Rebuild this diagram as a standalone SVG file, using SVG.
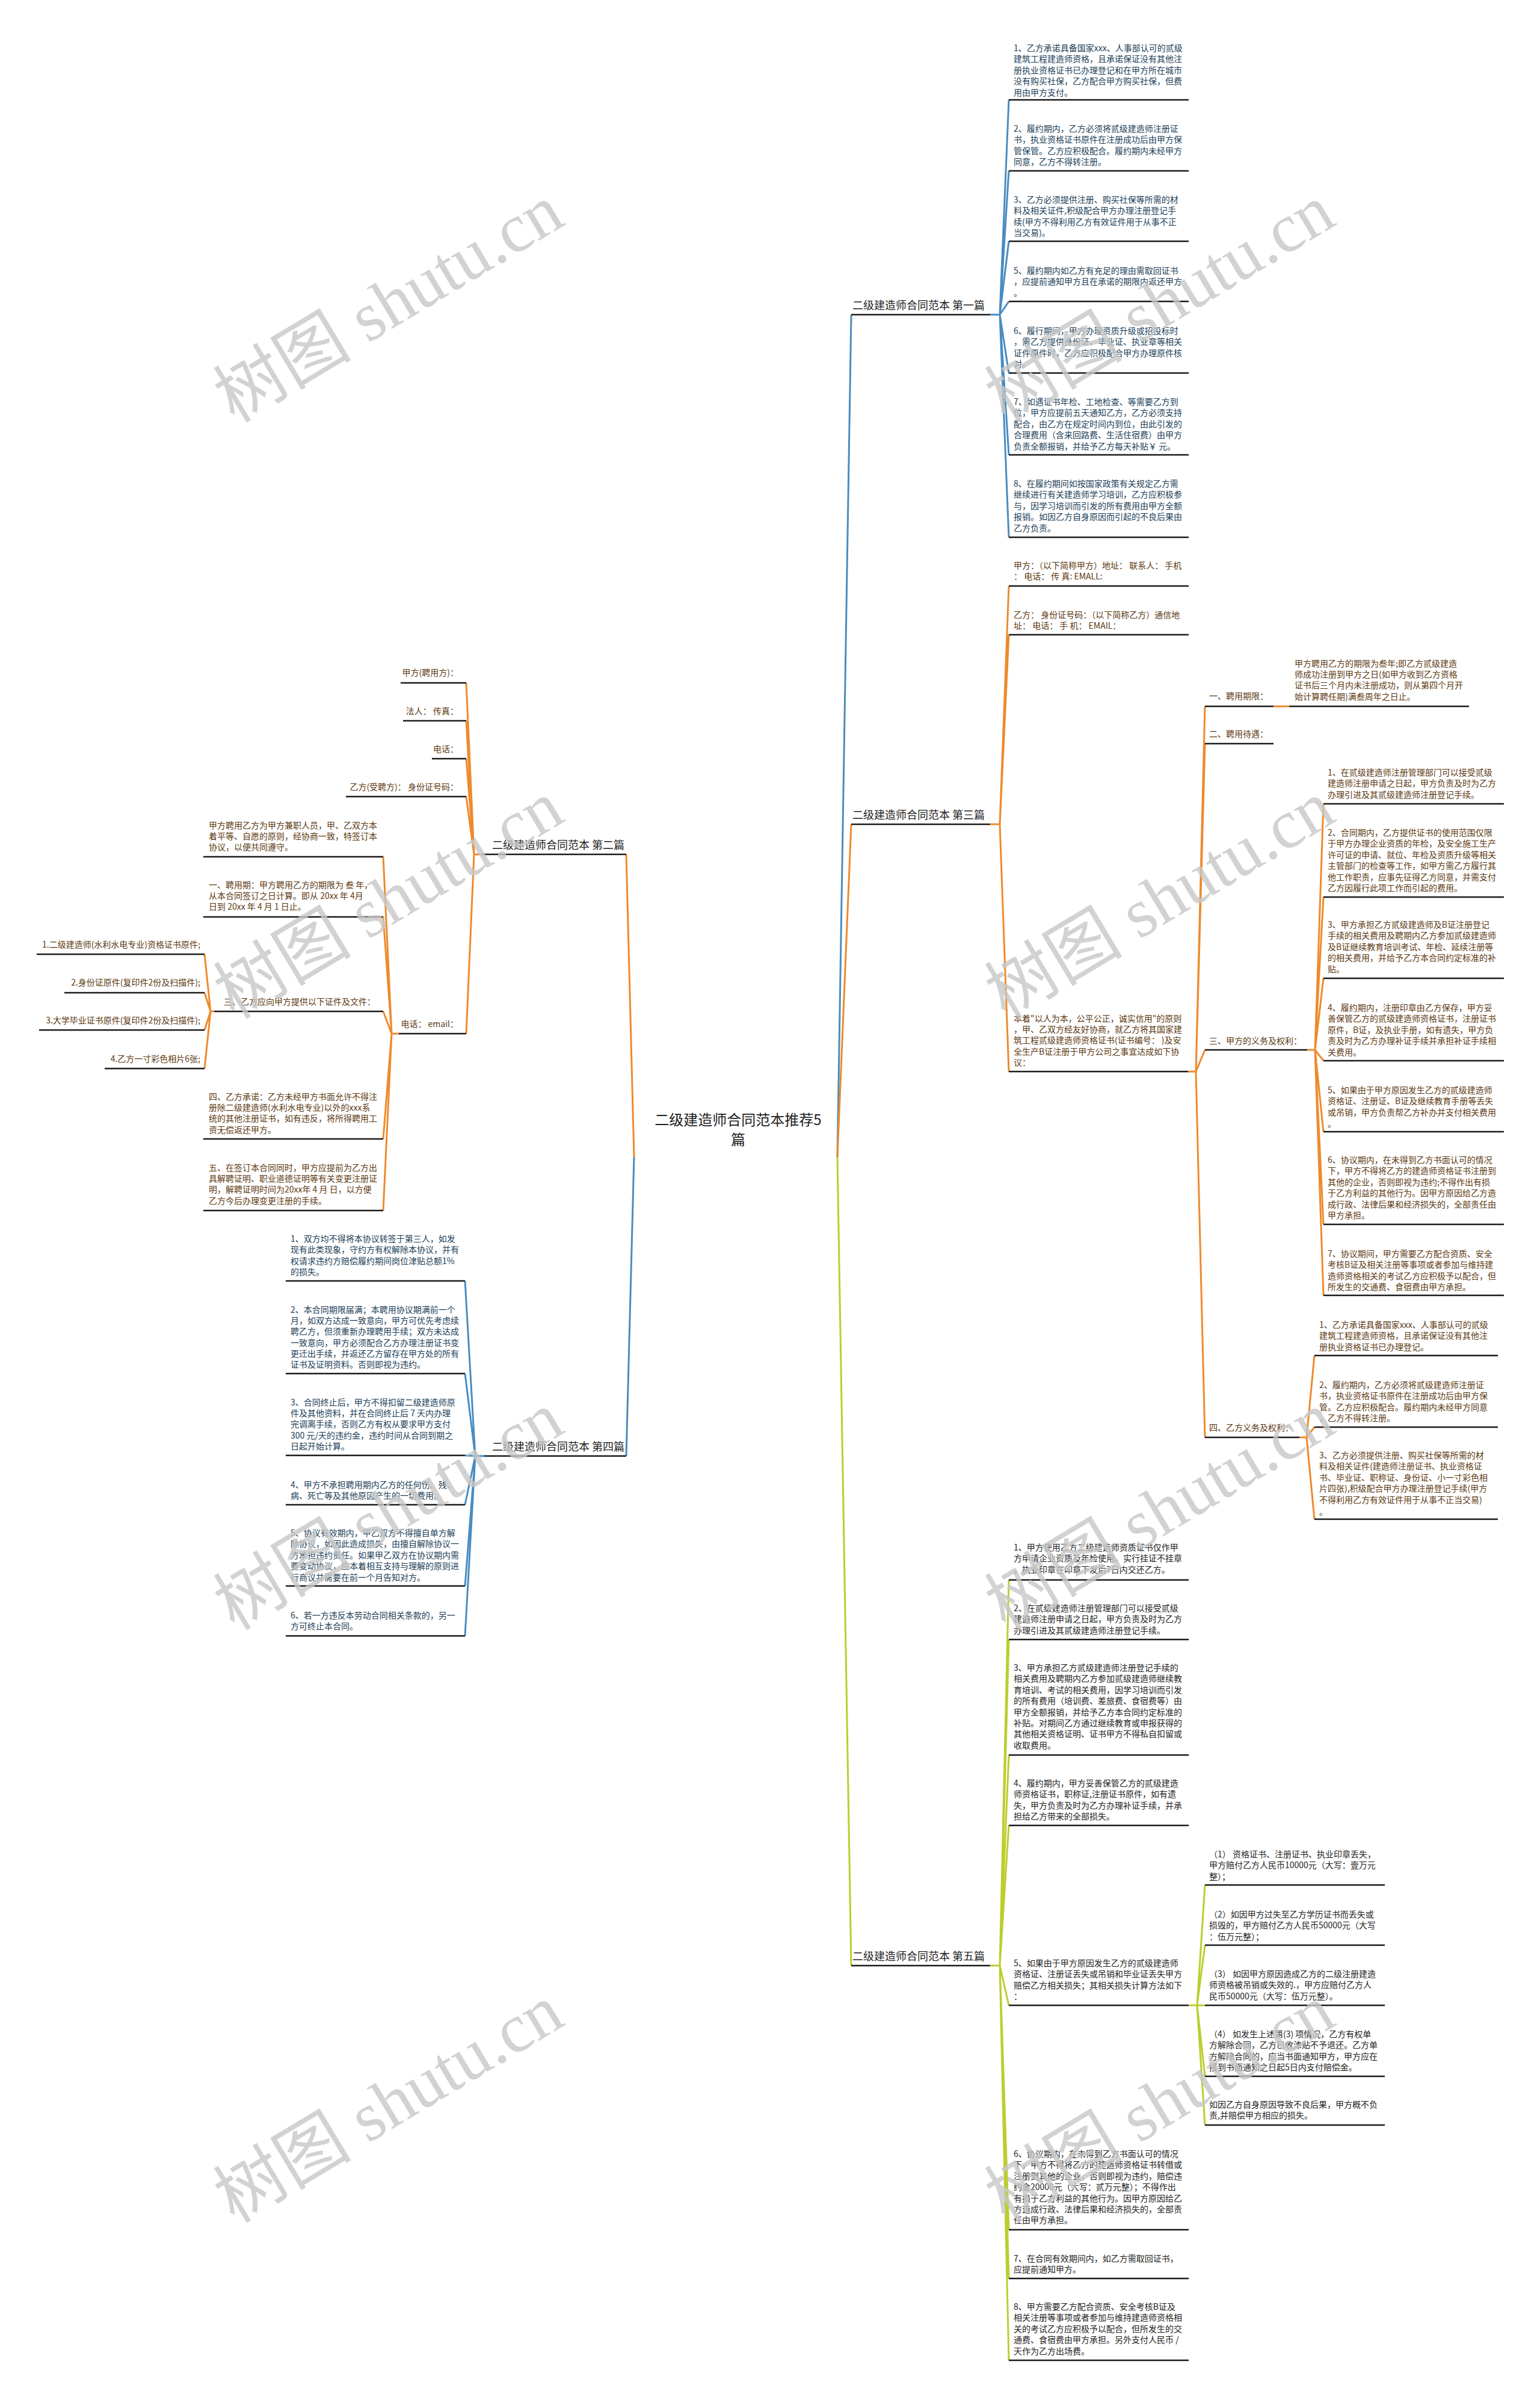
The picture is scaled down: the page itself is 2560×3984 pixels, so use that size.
<svg xmlns="http://www.w3.org/2000/svg" width="2560" height="3984" viewBox="0 0 2560 3984">
<style>
text{font-family:"Noto Sans CJK SC","Noto Sans",sans-serif;font-size:14px}
.root{font-size:24px;fill:#222}
.l1{font-size:18px;fill:#222}
.tb{fill:#203e58}
.to{fill:#5c3811}
.tg{fill:#1e1e1e}
.ul{stroke:#1a1a1a;stroke-width:2.5;fill:none}
.cb{stroke:#4a8cc0;stroke-width:3;fill:none}
.co{stroke:#ee8a2c;stroke-width:3;fill:none}
.cg{stroke:#bccd2e;stroke-width:3;fill:none}
.wm{font-family:"Liberation Serif","Noto Sans CJK SC",serif;font-size:115px;fill:#c8c8c8;opacity:.8}
</style>
<rect width="2560" height="3984" fill="#fff"/>
<g id="connectors">
<path class="cb" d="M1392,1923 L1415,523"/>
<path class="co" d="M1392,1923 L1415,1370"/>
<path class="cg" d="M1392,1923 L1415,3267"/>
<path class="co" d="M1054,1923 L1041,1420"/>
<path class="cb" d="M1054,1923 L1041,2420"/>
<path class="cb" d="M1646,523 L1662,523 L1677,166 M1662,523 L1677,284 M1662,523 L1677,401 M1662,523 L1677,501 M1662,523 L1677,620 M1662,523 L1677,756 M1662,523 L1677,893"/>
<path class="co" d="M1646,1370 L1662,1370 L1677,974 M1662,1370 L1677,1055 M1662,1370 L1677,1781"/>
<path class="co" d="M1975,1781 L1988,1781 L2003,1174 M1988,1781 L2003,1236 M1988,1781 L2003,1745 M1988,1781 L2003,2389"/>
<path class="co" d="M2117,1174 L2143,1174"/>
<path class="co" d="M2173,1745 L2186,1745 L2200,1336 M2186,1745 L2200,1491 M2186,1745 L2200,1626 M2186,1745 L2200,1763 M2186,1745 L2200,1881 M2186,1745 L2200,2035 M2186,1745 L2200,2153"/>
<path class="co" d="M2160,2389 L2172,2389 L2185,2253 M2172,2389 L2185,2372 M2172,2389 L2185,2525"/>
<path class="cg" d="M1646,3267 L1662,3267 L1677,2626 M1662,3267 L1677,2725 M1662,3267 L1677,2917 M1662,3267 L1677,3034 M1662,3267 L1677,3333 M1662,3267 L1677,3706 M1662,3267 L1677,3787 M1662,3267 L1677,3923"/>
<path class="cg" d="M1976,3333 L1990,3333 L2003,3133 M1990,3333 L2003,3233 M1990,3333 L2003,3333 M1990,3333 L2003,3451 M1990,3333 L2003,3532"/>
<path class="co" d="M801,1420 L788,1420 L775,1135 M788,1420 L775,1198 M788,1420 L775,1261 M788,1420 L775,1324 M788,1420 L775,1718"/>
<path class="co" d="M663,1718 L651,1718 L637,1424 M651,1718 L637,1524 M651,1718 L637,1681 M651,1718 L637,1893 M651,1718 L637,2012"/>
<path class="co" d="M356,1681 L350,1681 L340,1586 M350,1681 L340,1650 M350,1681 L340,1712 M350,1681 L340,1776"/>
<path class="cb" d="M805,2420 L790,2420 L773,2129 M790,2420 L773,2283 M790,2420 L773,2419 M790,2420 L773,2501 M790,2420 L773,2636 M790,2420 L773,2719"/>
</g>

<g id="root"><text class="root" text-anchor="middle" x="1227" y="1870">二级建造师合同范本推荐5<tspan x="1227" dy="33">篇</tspan></text></g>

<g id="ch1"><text class="l1" x="1417" y="514">二级建造师合同范本 第一篇</text><line class="ul" x1="1415" y1="523" x2="1646" y2="523"/></g>
<g id="ch1-1"><text class="tb" x="1685" y="85"><tspan x="1685" dy="0">1、乙方承诺具备国家xxx、人事部认可的贰级</tspan><tspan x="1685" dy="18.4">建筑工程建造师资格，且承诺保证没有其他注</tspan><tspan x="1685" dy="18.4">册执业资格证书已办理登记和在甲方所在城市</tspan><tspan x="1685" dy="18.4">没有购买社保，乙方配合甲方购买社保，但费</tspan><tspan x="1685" dy="18.4">用由甲方支付。</tspan></text><line class="ul" x1="1677" y1="166" x2="1976" y2="166"/></g>
<g id="ch1-2"><text class="tb" x="1685" y="219"><tspan x="1685" dy="0">2、履约期内，乙方必须将贰级建造师注册证</tspan><tspan x="1685" dy="18.4">书，执业资格证书原件在注册成功后由甲方保</tspan><tspan x="1685" dy="18.4">管保管。乙方应积极配合。履约期内未经甲方</tspan><tspan x="1685" dy="18.4">同意，乙方不得转注册。</tspan></text><line class="ul" x1="1677" y1="284" x2="1976" y2="284"/></g>
<g id="ch1-3"><text class="tb" x="1685" y="337"><tspan x="1685" dy="0">3、乙方必须提供注册、购买社保等所需的材</tspan><tspan x="1685" dy="18.4">料及相关证件,积级配合甲方办理注册登记手</tspan><tspan x="1685" dy="18.4">续(甲方不得利用乙方有效证件用于从事不正</tspan><tspan x="1685" dy="18.4">当交易)。</tspan></text><line class="ul" x1="1677" y1="401" x2="1976" y2="401"/></g>
<g id="ch1-5"><text class="tb" x="1685" y="455"><tspan x="1685" dy="0">5、履约期内如乙方有充足的理由需取回证书</tspan><tspan x="1685" dy="18.4">，应提前通知甲方且在承诺的期限内返还甲方</tspan><tspan x="1685" dy="18.4">。</tspan></text><line class="ul" x1="1677" y1="501" x2="1976" y2="501"/></g>
<g id="ch1-6"><text class="tb" x="1685" y="555"><tspan x="1685" dy="0">6、履行期间，甲方办理资质升级或招投标时</tspan><tspan x="1685" dy="18.4">，需乙方提供身份证、毕业证、执业章等相关</tspan><tspan x="1685" dy="18.4">证件原件时，乙方应积极配合甲方办理原件核</tspan><tspan x="1685" dy="18.4">对。</tspan></text><line class="ul" x1="1677" y1="620" x2="1976" y2="620"/></g>
<g id="ch1-7"><text class="tb" x="1685" y="673"><tspan x="1685" dy="0">7、如遇证书年检、工地检查、等需要乙方到</tspan><tspan x="1685" dy="18.4">位，甲方应提前五天通知乙方，乙方必须支持</tspan><tspan x="1685" dy="18.4">配合，由乙方在规定时间内到位，由此引发的</tspan><tspan x="1685" dy="18.4">合理费用（含来回路费、生活住宿费）由甲方</tspan><tspan x="1685" dy="18.4">负责全额报销，并给予乙方每天补贴￥  元。</tspan></text><line class="ul" x1="1677" y1="756" x2="1976" y2="756"/></g>
<g id="ch1-8"><text class="tb" x="1685" y="809"><tspan x="1685" dy="0">8、在履约期间如按国家政策有关规定乙方需</tspan><tspan x="1685" dy="18.4">继续进行有关建造师学习培训，乙方应积极参</tspan><tspan x="1685" dy="18.4">与，因学习培训而引发的所有费用由甲方全额</tspan><tspan x="1685" dy="18.4">报销。如因乙方自身原因而引起的不良后果由</tspan><tspan x="1685" dy="18.4">乙方负责。</tspan></text><line class="ul" x1="1677" y1="893" x2="1976" y2="893"/></g>

<g id="ch3"><text class="l1" x="1417" y="1361">二级建造师合同范本 第三篇</text><line class="ul" x1="1415" y1="1370" x2="1646" y2="1370"/></g>
<g id="ch3-a"><text class="to" x="1685" y="945"><tspan x="1685" dy="0">甲方：（以下简称甲方）地址：  联系人：  手机</tspan><tspan x="1685" dy="18.4">：  电话：  传 真: EMALL:</tspan></text><line class="ul" x1="1677" y1="974" x2="1976" y2="974"/></g>
<g id="ch3-b"><text class="to" x="1685" y="1027"><tspan x="1685" dy="0">乙方：  身份证号码：（以下简称乙方）通信地</tspan><tspan x="1685" dy="18.4">址：  电话：  手 机：  EMAIL：</tspan></text><line class="ul" x1="1677" y1="1055" x2="1976" y2="1055"/></g>
<g id="ch3-c"><text class="to" x="1685" y="1698"><tspan x="1685" dy="0">本着&quot;以人为本，公平公正，诚实信用&quot;的原则</tspan><tspan x="1685" dy="18.2">，甲、乙双方经友好协商，就乙方将其国家建</tspan><tspan x="1685" dy="18.2">筑工程贰级建造师资格证书(证书编号：  )及安</tspan><tspan x="1685" dy="18.2">全生产B证注册于甲方公司之事宜达成如下协</tspan><tspan x="1685" dy="18.2">议：</tspan></text><line class="ul" x1="1677" y1="1781" x2="1975" y2="1781"/></g>
<g id="ch3-c1"><text class="to" x="2010" y="1162">一、聘用期限：</text><line class="ul" x1="2003" y1="1174" x2="2117" y2="1174"/></g>
<g id="ch3-c1a"><text class="to" x="2152" y="1108"><tspan x="2152" dy="0">甲方聘用乙方的期限为叁年;即乙方贰级建造</tspan><tspan x="2152" dy="18.2">师成功注册到甲方之日(如甲方收到乙方资格</tspan><tspan x="2152" dy="18.2">证书后三个月内未注册成功，则从第四个月开</tspan><tspan x="2152" dy="18.2">始计算聘任期)满叁周年之日止。</tspan></text><line class="ul" x1="2143" y1="1174" x2="2442" y2="1174"/></g>
<g id="ch3-c2"><text class="to" x="2010" y="1225">二、聘用待遇：</text><line class="ul" x1="2003" y1="1236" x2="2117" y2="1236"/></g>
<g id="ch3-c3"><text class="to" x="2010" y="1735">三、甲方的义务及权利：</text><line class="ul" x1="2003" y1="1745" x2="2173" y2="1745"/></g>
<g id="ch3-c3-1"><text class="to" x="2207" y="1289"><tspan x="2207" dy="0">1、在贰级建造师注册管理部门可以接受贰级</tspan><tspan x="2207" dy="18.4">建造师注册申请之日起，甲方负责及时为乙方</tspan><tspan x="2207" dy="18.4">办理引进及其贰级建造师注册登记手续。</tspan></text><line class="ul" x1="2200" y1="1336" x2="2500" y2="1336"/></g>
<g id="ch3-c3-2"><text class="to" x="2207" y="1389"><tspan x="2207" dy="0">2、合同期内，乙方提供证书的使用范围仅限</tspan><tspan x="2207" dy="18.4">于甲方办理企业资质的年检，及安全施工生产</tspan><tspan x="2207" dy="18.4">许可证的申请、就位、年检及资质升级等相关</tspan><tspan x="2207" dy="18.4">主管部门的检查等工作，如甲方需乙方履行其</tspan><tspan x="2207" dy="18.4">他工作职责，应事先征得乙方同意，并需支付</tspan><tspan x="2207" dy="18.4">乙方因履行此项工作而引起的费用。</tspan></text><line class="ul" x1="2200" y1="1491" x2="2500" y2="1491"/></g>
<g id="ch3-c3-3"><text class="to" x="2207" y="1542"><tspan x="2207" dy="0">3、甲方承担乙方贰级建造师及B证注册登记</tspan><tspan x="2207" dy="18.4">手续的相关费用及聘期内乙方参加贰级建造师</tspan><tspan x="2207" dy="18.4">及B证继续教育培训考试、年检、延续注册等</tspan><tspan x="2207" dy="18.4">的相关费用，并给予乙方本合同约定标准的补</tspan><tspan x="2207" dy="18.4">贴。</tspan></text><line class="ul" x1="2200" y1="1626" x2="2500" y2="1626"/></g>
<g id="ch3-c3-4"><text class="to" x="2207" y="1680"><tspan x="2207" dy="0">4、履约期内，注册印章由乙方保存，甲方妥</tspan><tspan x="2207" dy="18.4">善保管乙方的贰级建造师资格证书，注册证书</tspan><tspan x="2207" dy="18.4">原件，B证，及执业手册，如有遗失，甲方负</tspan><tspan x="2207" dy="18.4">责及时为乙方办理补证手续并承担补证手续相</tspan><tspan x="2207" dy="18.4">关费用。</tspan></text><line class="ul" x1="2200" y1="1763" x2="2500" y2="1763"/></g>
<g id="ch3-c3-5"><text class="to" x="2207" y="1817"><tspan x="2207" dy="0">5、如果由于甲方原因发生乙方的贰级建造师</tspan><tspan x="2207" dy="18.4">资格证、注册证、B证及继续教育手册等丢失</tspan><tspan x="2207" dy="18.4">或吊销，甲方负责帮乙方补办并支付相关费用</tspan><tspan x="2207" dy="19.5">。</tspan></text><line class="ul" x1="2200" y1="1881" x2="2500" y2="1881"/></g>
<g id="ch3-c3-6"><text class="to" x="2207" y="1933"><tspan x="2207" dy="0">6、协议期内，在未得到乙方书面认可的情况</tspan><tspan x="2207" dy="18.4">下，甲方不得将乙方的建造师资格证书注册到</tspan><tspan x="2207" dy="18.4">其他的企业，否则即视为违约;不得作出有损</tspan><tspan x="2207" dy="18.4">于乙方利益的其他行为。因甲方原因给乙方造</tspan><tspan x="2207" dy="18.4">成行政、法律后果和经济损失的，全部责任由</tspan><tspan x="2207" dy="18.4">甲方承担。</tspan></text><line class="ul" x1="2200" y1="2035" x2="2500" y2="2035"/></g>
<g id="ch3-c3-7"><text class="to" x="2207" y="2089"><tspan x="2207" dy="0">7、协议期间，甲方需要乙方配合资质、安全</tspan><tspan x="2207" dy="18.4">考核B证及相关注册等事项或者参加与维持建</tspan><tspan x="2207" dy="18.4">造师资格相关的考试乙方应积极予以配合，但</tspan><tspan x="2207" dy="18.4">所发生的交通费、食宿费由甲方承担。</tspan></text><line class="ul" x1="2200" y1="2153" x2="2500" y2="2153"/></g>
<g id="ch3-c4"><text class="to" x="2010" y="2378">四、乙方义务及权利：</text><line class="ul" x1="2003" y1="2389" x2="2160" y2="2389"/></g>
<g id="ch3-c4-1"><text class="to" x="2193" y="2207"><tspan x="2193" dy="0">1、乙方承诺具备国家xxx、人事部认可的贰级</tspan><tspan x="2193" dy="18.4">建筑工程建造师资格，且承诺保证没有其他注</tspan><tspan x="2193" dy="18.4">册执业资格证书已办理登记。</tspan></text><line class="ul" x1="2185" y1="2253" x2="2490" y2="2253"/></g>
<g id="ch3-c4-2"><text class="to" x="2193" y="2307"><tspan x="2193" dy="0">2、履约期内，乙方必须将贰级建造师注册证</tspan><tspan x="2193" dy="18.4">书，执业资格证书原件在注册成功后由甲方保</tspan><tspan x="2193" dy="18.4">管。乙方应积极配合。履约期内未经甲方同意</tspan><tspan x="2193" dy="18.4">，乙方不得转注册。</tspan></text><line class="ul" x1="2185" y1="2372" x2="2490" y2="2372"/></g>
<g id="ch3-c4-3"><text class="to" x="2193" y="2424"><tspan x="2193" dy="0">3、乙方必须提供注册、购买社保等所需的材</tspan><tspan x="2193" dy="18.4">料及相关证件(建造师注册证书、执业资格证</tspan><tspan x="2193" dy="18.4">书、毕业证、职称证、身份证、小一寸彩色相</tspan><tspan x="2193" dy="18.4">片四张),积级配合甲方办理注册登记手续(甲方</tspan><tspan x="2193" dy="18.4">不得利用乙方有效证件用于从事不正当交易)</tspan><tspan x="2193" dy="20">。</tspan></text><line class="ul" x1="2185" y1="2525" x2="2490" y2="2525"/></g>

<g id="ch5"><text class="l1" x="1417" y="3258">二级建造师合同范本 第五篇</text><line class="ul" x1="1415" y1="3267" x2="1646" y2="3267"/></g>
<g id="ch5-1"><text class="tg" x="1685" y="2577"><tspan x="1685" dy="0">1、甲方使用乙方二级建造师资质证书仅作甲</tspan><tspan x="1685" dy="18.4">方申请企业资质及年检使用。实行挂证不挂章</tspan><tspan x="1685" dy="18.4">，执业印章在印章下发后7日内交还乙方。</tspan></text><line class="ul" x1="1677" y1="2626" x2="1976" y2="2626"/></g>
<g id="ch5-2"><text class="tg" x="1685" y="2678"><tspan x="1685" dy="0">2、在贰级建造师注册管理部门可以接受贰级</tspan><tspan x="1685" dy="18.4">建造师注册申请之日起，甲方负责及时为乙方</tspan><tspan x="1685" dy="18.4">办理引进及其贰级建造师注册登记手续。</tspan></text><line class="ul" x1="1677" y1="2725" x2="1976" y2="2725"/></g>
<g id="ch5-3"><text class="tg" x="1685" y="2777"><tspan x="1685" dy="0">3、甲方承担乙方贰级建造师注册登记手续的</tspan><tspan x="1685" dy="18.4">相关费用及聘期内乙方参加贰级建造师继续教</tspan><tspan x="1685" dy="18.4">育培训、考试的相关费用，因学习培训而引发</tspan><tspan x="1685" dy="18.4">的所有费用（培训费、差旅费、食宿费等）由</tspan><tspan x="1685" dy="18.4">甲方全额报销，并给予乙方本合同约定标准的</tspan><tspan x="1685" dy="18.4">补贴。对期间乙方通过继续教育或申报获得的</tspan><tspan x="1685" dy="18.4">其他相关资格证明、证书甲方不得私自扣留或</tspan><tspan x="1685" dy="18.4">收取费用。</tspan></text><line class="ul" x1="1677" y1="2917" x2="1976" y2="2917"/></g>
<g id="ch5-4"><text class="tg" x="1685" y="2969"><tspan x="1685" dy="0">4、履约期内，甲方妥善保管乙方的贰级建造</tspan><tspan x="1685" dy="18.4">师资格证书，职称证,注册证书原件，如有遗</tspan><tspan x="1685" dy="18.4">失，甲方负责及时为乙方办理补证手续，并承</tspan><tspan x="1685" dy="18.4">担给乙方带来的全部损失。</tspan></text><line class="ul" x1="1677" y1="3034" x2="1976" y2="3034"/></g>
<g id="ch5-5"><text class="tg" x="1685" y="3268"><tspan x="1685" dy="0">5、如果由于甲方原因发生乙方的贰级建造师</tspan><tspan x="1685" dy="18.4">资格证、注册证丢失或吊销和毕业证丢失甲方</tspan><tspan x="1685" dy="18.4">赔偿乙方相关损失；其相关损失计算方法如下</tspan><tspan x="1685" dy="18.4">：</tspan></text><line class="ul" x1="1677" y1="3333" x2="1976" y2="3333"/></g>
<g id="ch5-5-1"><text class="tg" x="2010" y="3087"><tspan x="2010" dy="0">（1） 资格证书、注册证书、执业印章丢失，</tspan><tspan x="2010" dy="18.4">甲方赔付乙方人民币10000元（大写：壹万元</tspan><tspan x="2010" dy="18.4">整）；</tspan></text><line class="ul" x1="2003" y1="3133" x2="2302" y2="3133"/></g>
<g id="ch5-5-2"><text class="tg" x="2010" y="3187"><tspan x="2010" dy="0">（2）如因甲方过失至乙方学历证书而丢失或</tspan><tspan x="2010" dy="18.4">损毁的，甲方赔付乙方人民币50000元（大写</tspan><tspan x="2010" dy="18.4">：伍万元整）；</tspan></text><line class="ul" x1="2003" y1="3233" x2="2302" y2="3233"/></g>
<g id="ch5-5-3"><text class="tg" x="2010" y="3286"><tspan x="2010" dy="0">（3） 如因甲方原因造成乙方的二级注册建造</tspan><tspan x="2010" dy="18.4">师资格被吊销或失效的.，甲方应赔付乙方人</tspan><tspan x="2010" dy="18.4">民币50000元（大写：伍万元整）。</tspan></text><line class="ul" x1="2003" y1="3333" x2="2302" y2="3333"/></g>
<g id="ch5-5-4"><text class="tg" x="2010" y="3386"><tspan x="2010" dy="0">（4） 如发生上述第(3) 项情况，乙方有权单</tspan><tspan x="2010" dy="18.4">方解除合同，乙方已收津贴不予退还。乙方单</tspan><tspan x="2010" dy="18.4">方解除合同的，应当书面通知甲方，甲方应在</tspan><tspan x="2010" dy="18.4">接到书面通知之日起5日内支付赔偿金。</tspan></text><line class="ul" x1="2003" y1="3451" x2="2302" y2="3451"/></g>
<g id="ch5-5-5"><text class="tg" x="2010" y="3503"><tspan x="2010" dy="0">如因乙方自身原因导致不良后果，甲方概不负</tspan><tspan x="2010" dy="18.4">责,并赔偿甲方相应的损失。</tspan></text><line class="ul" x1="2003" y1="3532" x2="2302" y2="3532"/></g>
<g id="ch5-6"><text class="tg" x="1685" y="3585"><tspan x="1685" dy="0">6、协议期内，在未得到乙方书面认可的情况</tspan><tspan x="1685" dy="18.4">下，甲方不得将乙方的建造师资格证书转借或</tspan><tspan x="1685" dy="18.4">注册到其他的企业，否则即视为违约，赔偿违</tspan><tspan x="1685" dy="18.4">约金20000元（大写：贰万元整）；不得作出</tspan><tspan x="1685" dy="18.4">有损于乙方利益的其他行为。因甲方原因给乙</tspan><tspan x="1685" dy="18.4">方造成行政、法律后果和经济损失的，全部责</tspan><tspan x="1685" dy="18.4">任由甲方承担。</tspan></text><line class="ul" x1="1677" y1="3706" x2="1976" y2="3706"/></g>
<g id="ch5-7"><text class="tg" x="1685" y="3759"><tspan x="1685" dy="0">7、在合同有效期间内，如乙方需取回证书，</tspan><tspan x="1685" dy="18.4">应提前通知甲方。</tspan></text><line class="ul" x1="1677" y1="3787" x2="1976" y2="3787"/></g>
<g id="ch5-8"><text class="tg" x="1685" y="3839"><tspan x="1685" dy="0">8、甲方需要乙方配合资质、安全考核B证及</tspan><tspan x="1685" dy="18.4">相关注册等事项或者参加与维持建造师资格相</tspan><tspan x="1685" dy="18.4">关的考试乙方应积极予以配合，但所发生的交</tspan><tspan x="1685" dy="18.4">通费、食宿费由甲方承担。另外支付人民币 /</tspan><tspan x="1685" dy="18.4">天作为乙方出场费。</tspan></text><line class="ul" x1="1677" y1="3923" x2="1976" y2="3923"/></g>

<g id="ch2"><text class="l1" text-anchor="end" x="1038" y="1411">二级建造师合同范本 第二篇</text><line class="ul" x1="801" y1="1420" x2="1041" y2="1420"/></g>
<g id="ch2-1"><text class="to" text-anchor="end" x="762" y="1123">甲方(聘用方)：</text><line class="ul" x1="666" y1="1135" x2="775" y2="1135"/></g>
<g id="ch2-2"><text class="to" text-anchor="end" x="762" y="1187">法人：  传真：</text><line class="ul" x1="670" y1="1198" x2="775" y2="1198"/></g>
<g id="ch2-3"><text class="to" text-anchor="end" x="762" y="1250">电话：</text><line class="ul" x1="718" y1="1261" x2="775" y2="1261"/></g>
<g id="ch2-4"><text class="to" text-anchor="end" x="762" y="1313">乙方(受聘方)：  身份证号码：</text><line class="ul" x1="575" y1="1324" x2="775" y2="1324"/></g>
<g id="ch2-5"><text class="to" text-anchor="end" x="762" y="1707">电话：  email：</text><line class="ul" x1="663" y1="1718" x2="775" y2="1718"/></g>
<g id="ch2-5-1"><text class="to" x="347" y="1377"><tspan x="347" dy="0">甲方聘用乙方为甲方兼职人员，甲、乙双方本</tspan><tspan x="347" dy="18.2">着平等、自愿的原则，经协商一致，特签订本</tspan><tspan x="347" dy="18.2">协议，以便共同遵守。</tspan></text><line class="ul" x1="338" y1="1424" x2="637" y2="1424"/></g>
<g id="ch2-5-2"><text class="to" x="347" y="1476"><tspan x="347" dy="0">一、聘用期：甲方聘用乙方的期限为 叁 年，</tspan><tspan x="347" dy="18.2">从本合同签订之日计算。即从 20xx 年 4月</tspan><tspan x="347" dy="18.2">日到 20xx 年 4 月 1 日止。</tspan></text><line class="ul" x1="338" y1="1524" x2="637" y2="1524"/></g>
<g id="ch2-5-3"><text class="to" text-anchor="end" x="624" y="1670">三、乙方应向甲方提供以下证件及文件：</text><line class="ul" x1="356" y1="1681" x2="637" y2="1681"/></g>
<g id="ch2-5-3-1"><text class="to" text-anchor="end" x="333" y="1575">1.二级建造师(水利水电专业)资格证书原件;</text><line class="ul" x1="61" y1="1586" x2="340" y2="1586"/></g>
<g id="ch2-5-3-2"><text class="to" text-anchor="end" x="333" y="1638">2.身份证原件(复印件2份及扫描件);</text><line class="ul" x1="107" y1="1650" x2="340" y2="1650"/></g>
<g id="ch2-5-3-3"><text class="to" text-anchor="end" x="333" y="1701">3.大学毕业证书原件(复印件2份及扫描件);</text><line class="ul" x1="65" y1="1712" x2="340" y2="1712"/></g>
<g id="ch2-5-3-4"><text class="to" text-anchor="end" x="333" y="1765">4.乙方一寸彩色相片6张;</text><line class="ul" x1="174" y1="1776" x2="340" y2="1776"/></g>
<g id="ch2-5-4"><text class="to" x="347" y="1828"><tspan x="347" dy="0">四、乙方承诺：乙方未经甲方书面允许不得注</tspan><tspan x="347" dy="18.2">册除二级建造师(水利水电专业)以外的xxx系</tspan><tspan x="347" dy="18.2">统的其他注册证书，如有违反，将所得聘用工</tspan><tspan x="347" dy="18.2">资无偿返还甲方。</tspan></text><line class="ul" x1="338" y1="1893" x2="637" y2="1893"/></g>
<g id="ch2-5-5"><text class="to" x="347" y="1946"><tspan x="347" dy="0">五、在签订本合同同时，甲方应提前为乙方出</tspan><tspan x="347" dy="18.2">具解聘证明、职业道德证明等有关变更注册证</tspan><tspan x="347" dy="18.2">明，解聘证明时间为20xx年 4 月 日，以方便</tspan><tspan x="347" dy="18.2">乙方今后办理变更注册的手续。</tspan></text><line class="ul" x1="338" y1="2012" x2="637" y2="2012"/></g>

<g id="ch4"><text class="l1" text-anchor="end" x="1038" y="2411">二级建造师合同范本 第四篇</text><line class="ul" x1="805" y1="2420" x2="1041" y2="2420"/></g>
<g id="ch4-1"><text class="tb" x="483" y="2064"><tspan x="483" dy="0">1、双方均不得将本协议转签于第三人，如发</tspan><tspan x="483" dy="18.4">现有此类现象，守约方有权解除本协议，并有</tspan><tspan x="483" dy="18.4">权请求违约方赔偿履约期间岗位津贴总额1%</tspan><tspan x="483" dy="18.4">的损失。</tspan></text><line class="ul" x1="475" y1="2129" x2="773" y2="2129"/></g>
<g id="ch4-2"><text class="tb" x="483" y="2182"><tspan x="483" dy="0">2、本合同期限届满；本聘用协议期满前一个</tspan><tspan x="483" dy="18.2">月，如双方达成一致意向，甲方可优先考虑续</tspan><tspan x="483" dy="18.2">聘乙方，但须重新办理聘用手续；双方未达成</tspan><tspan x="483" dy="18.2">一致意向，甲方必须配合乙方办理注册证书变</tspan><tspan x="483" dy="18.2">更迁出手续，并返还乙方留存在甲方处的所有</tspan><tspan x="483" dy="18.2">证书及证明资料。否则即视为违约。</tspan></text><line class="ul" x1="475" y1="2283" x2="773" y2="2283"/></g>
<g id="ch4-3"><text class="tb" x="483" y="2336"><tspan x="483" dy="0">3、合同终止后，甲方不得扣留二级建造师原</tspan><tspan x="483" dy="18.2">件及其他资料，并在合同终止后 7  天内办理</tspan><tspan x="483" dy="18.2">完调离手续，否则乙方有权从要求甲方支付</tspan><tspan x="483" dy="18.2">300 元/天的违约金，违约时间从合同到期之</tspan><tspan x="483" dy="18.2">日起开始计算。</tspan></text><line class="ul" x1="475" y1="2419" x2="773" y2="2419"/></g>
<g id="ch4-4"><text class="tb" x="483" y="2473"><tspan x="483" dy="0">4、甲方不承担聘用期内乙方的任何伤、残、</tspan><tspan x="483" dy="18">病、死亡等及其他原因产生的一切费用。</tspan></text><line class="ul" x1="475" y1="2501" x2="773" y2="2501"/></g>
<g id="ch4-5"><text class="tb" x="483" y="2553"><tspan x="483" dy="0">5、协议有效期内，甲乙双方不得擅自单方解</tspan><tspan x="483" dy="18.4">除协议，如因此造成损失，由擅自解除协议一</tspan><tspan x="483" dy="18.4">方承担违约责任。如果甲乙双方在协议期内需</tspan><tspan x="483" dy="18.4">要变动协议，应本着相互支持与理解的原则进</tspan><tspan x="483" dy="18.4">行商议并需要在前一个月告知对方。</tspan></text><line class="ul" x1="475" y1="2636" x2="773" y2="2636"/></g>
<g id="ch4-6"><text class="tb" x="483" y="2690"><tspan x="483" dy="0">6、若一方违反本劳动合同相关条款的，另一</tspan><tspan x="483" dy="18">方可终止本合同。</tspan></text><line class="ul" x1="475" y1="2719" x2="773" y2="2719"/></g>

<g id="watermarks">
<text class="wm" text-anchor="middle" x="648" y="543" transform="rotate(-31 648 508)">树图 shutu.cn</text>
<text class="wm" text-anchor="middle" x="1930" y="543" transform="rotate(-31 1930 508)">树图 shutu.cn</text>
<text class="wm" text-anchor="middle" x="648" y="1534" transform="rotate(-31 648 1499)">树图 shutu.cn</text>
<text class="wm" text-anchor="middle" x="1930" y="1534" transform="rotate(-31 1930 1499)">树图 shutu.cn</text>
<text class="wm" text-anchor="middle" x="648" y="2550" transform="rotate(-31 648 2515)">树图 shutu.cn</text>
<text class="wm" text-anchor="middle" x="1930" y="2550" transform="rotate(-31 1930 2515)">树图 shutu.cn</text>
<text class="wm" text-anchor="middle" x="648" y="3535" transform="rotate(-31 648 3500)">树图 shutu.cn</text>
<text class="wm" text-anchor="middle" x="1930" y="3535" transform="rotate(-31 1930 3500)">树图 shutu.cn</text>
</g>
</svg>
